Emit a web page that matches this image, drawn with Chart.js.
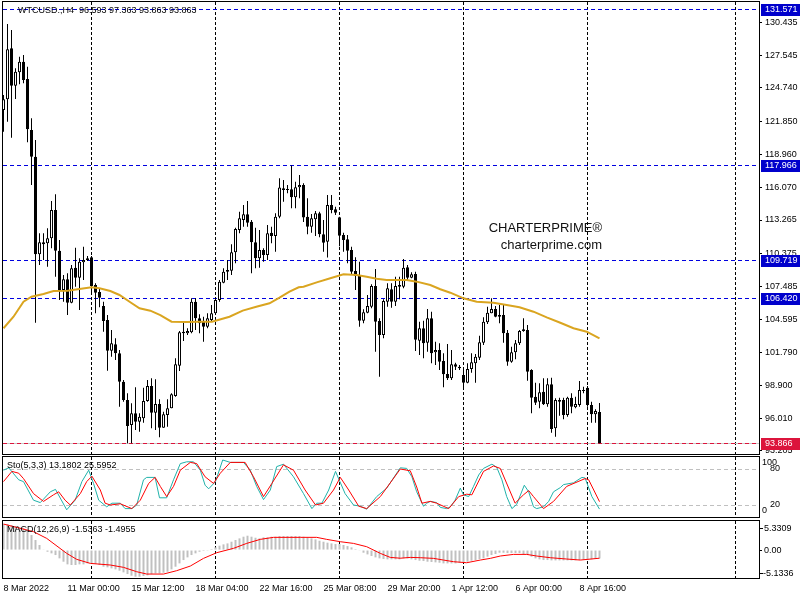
<!DOCTYPE html>
<html>
<head>
<meta charset="utf-8">
<title>WTCUSD H4</title>
<script src="https://cdn.jsdelivr.net/npm/chart.js@4.4.1/dist/chart.umd.min.js"></script>
<style>
  body { margin: 0; background: #ffffff; }
  canvas { position: absolute; left: 0; top: 0; }
</style>
</head>
<body>
<canvas id="mainCanvas" width="800" height="600"></canvas>
<canvas id="stoCanvas" width="800" height="600"></canvas>
<canvas id="macdCanvas" width="800" height="600"></canvas>
<script>
// H4 candles, bar index 0..149
const candleOpen = [122.82, 123.75, 128.18, 124.93, 126.10, 127.02, 125.52, 121.09, 118.77, 110.29,
  111.33, 111.24, 111.68, 114.14, 110.60, 107.18, 108.11, 106.08, 109.12, 108.25,
  109.59, 109.79, 110.03, 107.62, 107.01, 105.79, 104.58, 101.91, 102.47, 101.69,
  99.22, 97.63, 95.46, 96.47, 95.74, 96.04, 97.54, 98.85, 96.52, 97.28,
  95.22, 96.32, 96.91, 97.98, 100.61, 103.42, 103.42, 103.51, 106.17, 104.73,
  104.43, 104.00, 104.58, 105.16, 106.32, 107.82, 108.77, 108.86, 110.46, 112.40,
  113.27, 113.76, 113.12, 111.33, 109.94, 110.66, 110.23, 112.16, 111.88, 113.55,
  116.02, 115.93, 115.93, 115.24, 116.11, 116.31, 113.55, 112.68, 113.33, 113.85,
  112.02, 111.38, 114.57, 114.20, 113.50, 111.96, 111.59, 110.66, 108.84, 108.40,
  104.52, 105.21, 105.73, 107.53, 104.49, 103.28, 106.17, 107.25, 106.17, 107.47,
  107.47, 109.16, 108.25, 108.57, 102.78, 103.86, 102.61, 104.73, 101.77, 101.97,
  101.02, 99.89, 99.51, 100.73, 100.52, 99.80, 99.13, 100.32, 100.81, 101.30,
  102.61, 104.38, 105.16, 105.53, 105.01, 105.01, 103.47, 100.96, 101.77, 102.55,
  103.62, 103.71, 100.23, 97.91, 97.48, 98.35, 97.25, 98.99, 95.17, 97.63,
  97.63, 96.32, 97.83, 97.00, 97.19, 98.50, 98.70, 97.19, 96.39, 96.593];
const candleHigh = [124.13, 130.29, 129.77, 126.45, 127.45, 127.60, 126.59, 122.10, 120.22, 112.11,
  112.11, 112.55, 114.92, 115.50, 111.53, 108.49, 108.64, 109.36, 110.86, 109.94,
  110.95, 110.14, 110.14, 107.77, 107.33, 106.17, 105.01, 103.71, 102.99, 101.97,
  99.37, 98.21, 97.34, 98.73, 96.47, 98.70, 99.37, 99.51, 99.43, 97.69,
  96.61, 97.69, 98.21, 101.25, 103.62, 104.34, 103.86, 106.46, 106.46, 105.07,
  104.86, 105.16, 105.88, 106.52, 108.05, 109.07, 109.79, 111.16, 112.60, 113.99,
  114.57, 114.92, 113.27, 112.60, 112.40, 110.81, 112.83, 112.68, 113.85, 116.89,
  116.74, 116.31, 118.00, 116.59, 117.18, 116.45, 115.15, 113.79, 114.05, 113.99,
  113.27, 115.44, 115.44, 114.42, 113.55, 112.16, 111.96, 110.95, 110.03, 109.64,
  105.51, 106.75, 107.68, 109.01, 104.73, 106.38, 107.77, 107.77, 108.34, 108.34,
  109.88, 109.36, 108.72, 108.77, 104.43, 104.52, 105.53, 105.30, 102.69, 102.55,
  101.69, 102.49, 101.97, 100.87, 100.67, 100.23, 100.81, 101.69, 101.62, 103.21,
  104.81, 105.73, 106.46, 105.80, 105.88, 105.88, 103.71, 102.26, 102.84, 103.71,
  104.73, 104.14, 100.29, 99.13, 99.08, 99.51, 99.51, 99.57, 97.78, 97.83,
  97.83, 97.91, 98.21, 97.91, 99.28, 98.78, 98.84, 97.48, 96.82, 97.363];
const candleLow = [120.94, 121.81, 120.42, 123.78, 125.06, 125.14, 120.02, 116.31, 104.34, 109.36,
  109.79, 109.21, 110.81, 108.34, 106.32, 106.17, 105.01, 106.03, 107.47, 105.45,
  108.05, 109.70, 106.90, 105.16, 105.68, 103.56, 100.17, 101.39, 101.10, 97.05,
  97.48, 93.87, 93.87, 95.02, 94.87, 95.66, 97.48, 95.17, 95.02, 94.39,
  95.22, 95.31, 96.91, 97.91, 100.15, 102.75, 103.28, 103.42, 103.71, 103.42,
  102.69, 103.86, 104.43, 105.01, 106.17, 107.77, 108.05, 108.49, 109.50, 112.11,
  112.68, 112.68, 108.63, 109.07, 109.12, 109.64, 109.79, 111.24, 110.51, 113.41,
  114.86, 115.59, 114.28, 114.28, 115.15, 113.09, 112.02, 112.16, 111.88, 111.76,
  110.51, 110.01, 113.85, 113.70, 110.98, 110.51, 109.50, 108.49, 107.18, 104.00,
  104.29, 105.16, 105.59, 101.82, 99.65, 102.99, 105.73, 105.65, 105.80, 106.38,
  107.33, 108.05, 108.20, 101.88, 101.54, 101.25, 101.82, 100.82, 100.67, 100.23,
  98.73, 99.37, 99.37, 100.23, 100.23, 98.76, 99.08, 99.99, 99.13, 101.10,
  102.41, 104.23, 105.16, 104.81, 104.29, 102.61, 100.61, 100.87, 101.16, 102.41,
  103.56, 99.30, 96.47, 97.19, 96.91, 97.19, 97.05, 94.79, 94.44, 96.26,
  95.95, 96.18, 96.47, 96.91, 97.05, 98.21, 97.05, 95.66, 95.66, 93.863];
const candleClose = [123.75, 128.10, 124.93, 126.15, 127.02, 125.43, 121.15, 118.77, 110.29, 111.33,
  111.16, 111.68, 114.14, 110.60, 107.18, 108.11, 106.08, 109.07, 108.25, 109.64,
  109.79, 109.94, 107.53, 106.95, 106.52, 104.49, 101.91, 102.55, 101.69, 99.22,
  97.63, 95.37, 96.47, 95.74, 96.18, 97.54, 98.85, 96.52, 97.28, 95.22,
  96.39, 96.91, 98.12, 100.73, 103.51, 103.56, 103.62, 106.17, 104.73, 104.29,
  104.00, 104.73, 105.16, 106.32, 107.91, 108.77, 108.92, 110.46, 112.48, 113.41,
  113.76, 113.03, 111.33, 109.94, 110.66, 110.23, 112.11, 111.88, 113.55, 116.09,
  115.87, 115.87, 115.24, 116.11, 116.31, 113.48, 112.68, 113.41, 113.85, 112.02,
  111.29, 114.57, 114.14, 113.90, 111.90, 111.53, 110.60, 108.77, 108.40, 104.52,
  105.25, 105.80, 107.53, 104.43, 103.28, 106.23, 107.33, 106.17, 107.53, 107.62,
  109.12, 108.25, 108.55, 102.87, 103.86, 102.55, 104.73, 101.69, 101.97, 100.96,
  99.86, 99.51, 100.73, 100.52, 100.38, 99.13, 100.32, 100.90, 101.39, 102.64,
  104.43, 105.21, 105.53, 104.87, 104.87, 103.42, 100.96, 101.77, 102.55, 103.62,
  103.77, 100.09, 97.83, 97.39, 98.30, 97.25, 98.99, 95.11, 97.63, 97.48,
  96.32, 97.83, 97.05, 97.28, 98.50, 98.41, 97.19, 96.39, 96.67, 93.863];

// moving average (gold line), sampled along the curve
const maBars = [0, 2.5, 5, 7, 10, 12.5, 16, 19, 22, 24, 26.7, 29, 31.7, 34, 36.7, 39.2, 42, 45.8, 48.8, 52.1,
  53, 56.5, 59.8, 63.2, 66.5, 69, 71.5, 73.8, 75, 78.3, 81.7, 85, 88.3, 90.8, 93.3, 95.8, 100.8, 103.3,
  106.7, 109.2, 111.7, 115, 118.3, 122.5, 125.8, 129, 132.5, 135.8, 139.2, 142.5, 145.8, 149];
const maValues = [103.86, 104.86, 106.17, 106.60, 106.84, 107.10, 107.12, 107.27, 107.42, 107.33, 107.10, 106.75,
  106.12, 105.59, 105.39, 105.01, 104.43, 104.40, 104.43, 104.43, 104.52, 104.86, 105.39, 105.73, 106.03,
  106.52, 107.04, 107.42, 107.47, 107.85, 108.20, 108.55, 108.49, 108.34, 108.17, 108.05, 108.05, 107.91,
  107.62, 107.25, 106.95, 106.46, 106.17, 106.08, 105.88, 105.68, 105.30, 104.81, 104.34, 103.86, 103.56, 102.99];

// Stochastic(5,3,3)
const stoKBars = [0, 1.3, 3.8, 5, 7.5, 9.2, 11.7, 13, 15.8, 17.9, 19.6, 21.3, 22.5, 23.8, 25.8, 27.1, 29.2, 30.4,
  32.1, 33.3, 35, 35.8, 37.9, 39, 40.8, 42.5, 44.2, 45.8, 47.5, 49.2, 50.4, 51.3, 53, 54.8, 56.7, 60, 61.7,
  63.3, 65, 66.7, 68.3, 70, 72.5, 75, 77.1, 78.3, 79.6, 81.3, 83, 85.4, 87.5, 89.2, 90.8, 93.3, 95.8, 99.2,
  100.8, 102.1, 103.3, 105, 105.8, 106.7, 108.3, 109.2, 110.8, 111.7, 112.9, 114.2, 115, 116.3, 117.5, 118.8,
  120, 122.1, 123.3, 124.6, 125.8, 127.1, 128.3, 130.2, 131.3, 132.5, 133.3, 135, 136.3, 137.5, 139.2, 140,
  142.5, 144.6, 145.4, 147.1, 149];
const stoKValues = [78, 82, 62, 59, 28, 24, 42, 46, 12, 28, 59, 78, 56, 28, 17, 23, 23, 14, 14, 20, 62, 66, 66,
  32, 32, 62, 89, 92, 92, 78, 53, 47, 59, 95, 91, 91, 78, 51, 29, 45, 84, 88, 67, 39, 14, 23, 23, 45, 76, 39,
  20, 18, 13, 34, 48, 82, 81, 67, 42, 18, 23, 26, 24, 16, 14, 17, 28, 48, 37, 34, 51, 70, 81, 88, 83, 62, 34,
  14, 21, 53, 42, 17, 14, 17, 26, 42, 49, 54, 57, 66, 65, 34, 13.18];
const stoDBars = [0, 2.1, 3.8, 5, 7.5, 10, 12.5, 13.8, 15.4, 16.7, 19.2, 20.8, 22.1, 24.2, 25.4, 26.7, 29.2, 32.1,
  34.2, 36.3, 37.9, 39.2, 40.8, 42.5, 44.2, 46.7, 48.3, 50.4, 52.5, 54.2, 56.7, 60.4, 62.5, 65, 67.1, 70, 72.5,
  75.4, 78, 80, 82.5, 84.2, 86.3, 88.8, 90.8, 94.2, 99.2, 101.7, 103.3, 104.6, 106.7, 108.3, 111.3, 113.8,
  115.8, 117.1, 120, 122.5, 124.2, 127.9, 130, 131.3, 132.5, 135, 137.5, 140.8, 145.4, 146.3, 149];
const stoDValues = [59, 76, 73, 64, 39, 26, 37, 42, 28, 20, 39, 59, 68, 45, 23, 20, 22, 14, 28, 56, 66, 51, 34,
  51, 78, 91, 89, 67, 56, 73, 91, 91, 67, 34, 56, 87, 78, 45, 20, 23, 45, 66, 45, 18, 14, 34, 80, 77, 50, 23,
  26, 23, 14, 34, 38, 37, 76, 85, 81, 23, 37, 44, 34, 14, 26, 51, 64, 62, 25.6];

// MACD(12,26,9): histogram per bar + signal line
const macdHist = [4.77, 4.77, 4.59, 4.41, 4.16, 3.98, 3.67, 2.75, 1.84, 0.92, 0.12,
  -0.31, -0.61, -0.92, -1.53, -2.14, -2.63, -2.75, -2.75, -2.63, -2.63,
  -2.45, -2.45, -2.57, -2.75, -3.06, -3.18, -3.37, -3.55, -3.79, -4.10,
  -4.41, -4.71, -4.90, -4.90, -4.77, -4.65, -4.41, -4.28, -4.28, -4.16,
  -3.98, -3.55, -3.06, -2.45, -1.84, -1.35, -0.92, -0.61, -0.31, -0.18,
  -0.05, 0.18, 0.49, 0.80, 1.04, 1.22, 1.53, 1.84, 2.14, 2.45,
  2.63, 2.45, 2.26, 2.14, 2.33, 2.33, 2.45, 2.45, 2.57, 2.57,
  2.57, 2.57, 2.57, 2.57, 2.45, 2.33, 2.14, 1.96, 1.71, 1.53,
  1.35, 1.22, 1.10, 1.10, 0.92, 0.73, 0.49, 0.18, -0.12, -0.49,
  -0.80, -1.10, -1.35, -1.53, -1.65, -1.71, -1.71, -1.71, -1.71, -1.53,
  -1.53, -1.71, -1.84, -1.96, -2.02, -2.14, -2.20, -2.26, -2.33, -2.45,
  -2.45, -2.45, -2.45, -2.33, -2.26, -2.14, -1.96, -1.84, -1.65, -1.53,
  -1.22, -0.92, -0.73, -0.49, -0.49, -0.55, -0.55, -0.55, -0.55, -0.73,
  -0.92, -1.22, -1.53, -1.71, -1.84, -1.84, -1.90, -1.90, -1.90, -1.90,
  -1.90, -1.90, -1.88, -1.84, -1.80, -1.75, -1.70, -1.62, -1.54];
const signalBars = [0, 7.5, 10.8, 15.8, 18.3, 21.7, 26.7, 30, 33.3, 35.8, 40, 43.3, 46.7, 50, 53.3, 57.5, 60.8,
  64.2, 67.5, 74.2, 78.3, 80.8, 84.2, 87.5, 90.8, 94.2, 96.7, 99.2, 101.7, 104.2, 107.5, 110, 112.5, 115.8,
  119.2, 121.7, 124.2, 127.5, 130.8, 133.3, 136.7, 140.8, 144.2, 149];
const signalValues = [4.77, 3.37, 2.14, -0.61, -1.71, -2.45, -2.75, -3.18, -3.98, -4.41, -4.41, -3.79, -2.94,
  -1.53, -0.49, 0.31, 1.22, 1.96, 2.33, 2.33, 2.33, 1.96, 1.53, 1.22, 0.61, -0.61, -1.35, -1.50, -1.35, -1.41,
  -1.53, -1.84, -2.14, -2.33, -1.84, -1.53, -1.10, -0.80, -0.80, -1.10, -1.41, -1.65, -1.84, -1.50];

// axes / labels
const priceTicks = [130.435, 127.545, 124.740, 121.850, 118.960, 116.070, 113.265, 110.375, 107.485,
  104.595, 101.790, 98.900, 96.010, 93.205];
const levelLines = [131.571, 117.966, 109.719, 106.420];
const bidPrice = 93.866;
const timeLabels = ["8 Mar 2022", "11 Mar 00:00", "15 Mar 12:00", "18 Mar 04:00", "22 Mar 16:00",
  "25 Mar 08:00", "29 Mar 20:00", "1 Apr 12:00", "6 Apr 00:00", "8 Apr 16:00"];
const timeLabelBars = [0, 16, 32, 48, 64, 80, 96, 112, 128, 144];
const gridBars = [22, 53, 84, 115, 146, 183];

Chart.defaults.font.family = "'Liberation Sans', Arial, sans-serif";
Chart.defaults.font.size = 9;
Chart.defaults.color = "#000";

const FONT = "9px 'Liberation Sans', Arial, sans-serif";
const LINE_BLUE = "#0000E0";
const xMin = -0.125;
const xMax = xMin + 189;
const bars = candleOpen.map((v, i) => i);

// fixed right axis, no extra padding pushed into the layout
const rightAxisFit = (s) => {
  s.width = 41;
  s.paddingTop = 0;
  s.paddingBottom = 0;
};

function drawVGrid(chart) {
  let ctx = chart.ctx, a = chart.chartArea, sx = chart.scales.x;
  ctx.save();
  ctx.lineWidth = 1;
  ctx.strokeStyle = "#000";
  ctx.setLineDash([3, 2]);
  gridBars.forEach((k) => {
    let px = Math.floor(sx.getPixelForValue(k)) + 0.5;
    ctx.beginPath();
    ctx.moveTo(px, a.top);
    ctx.lineTo(px, a.bottom);
    ctx.stroke();
  });
  ctx.restore();
}

function drawBox(chart) {
  let ctx = chart.ctx, a = chart.chartArea;
  ctx.save();
  ctx.lineWidth = 1;
  ctx.strokeStyle = "#000";
  ctx.strokeRect(a.left - 0.5, a.top - 0.5, a.right - a.left + 1, a.bottom - a.top + 1);
  ctx.restore();
}

function drawText(ctx, text, x, y, color, font, align) {
  ctx.save();
  ctx.font = font || FONT;
  ctx.fillStyle = color || "#000";
  ctx.textAlign = align || "left";
  ctx.textBaseline = "middle";
  ctx.fillText(text, x, y);
  ctx.restore();
}

const mainDecor = {
  id: "mainDecor",
  beforeDatasetsDraw(chart) {
    let ctx = chart.ctx, a = chart.chartArea, sy = chart.scales.y;
    drawVGrid(chart);
    ctx.save();
    ctx.lineWidth = 1;
    ctx.strokeStyle = LINE_BLUE;
    ctx.setLineDash([4, 3]);
    levelLines.forEach((v) => {
      let py = Math.floor(sy.getPixelForValue(v)) + 0.5;
      ctx.beginPath();
      ctx.moveTo(a.left, py);
      ctx.lineTo(a.right, py);
      ctx.stroke();
    });
    let by = Math.floor(sy.getPixelForValue(bidPrice)) + 0.5;
    ctx.setLineDash([]);
    ctx.strokeStyle = "#C8C8C8";
    ctx.beginPath();
    ctx.moveTo(a.left, by);
    ctx.lineTo(a.right, by);
    ctx.stroke();
    ctx.setLineDash([4, 3]);
    ctx.strokeStyle = "#DC143C";
    ctx.beginPath();
    ctx.moveTo(a.left, by);
    ctx.lineTo(a.right, by);
    ctx.stroke();
    ctx.restore();
  },
  afterDraw(chart) {
    let ctx = chart.ctx, a = chart.chartArea, sy = chart.scales.y;
    drawBox(chart);
    drawText(ctx, "WTCUSD.,H4  96.593 97.363 93.863 93.863", 18, 10.5);
    drawText(ctx, "CHARTERPRIME\u00AE", 602, 228.5, "#111", "13px 'Liberation Sans', Arial, sans-serif", "right");
    drawText(ctx, "charterprime.com", 602, 245, "#111", "13px 'Liberation Sans', Arial, sans-serif", "right");
    const tag = (v, color) => {
      let py = Math.floor(sy.getPixelForValue(v));
      ctx.fillStyle = color;
      ctx.fillRect(a.right + 2, py - 5, 800 - a.right - 2, 12);
      drawText(ctx, v.toFixed(3), a.right + 6, py + 1, "#fff");
    };
    levelLines.forEach((v) => tag(v, "#0000CC"));
    tag(bidPrice, "#DC143C");
  }
};

const stoDecor = {
  id: "stoDecor",
  beforeDatasetsDraw(chart) {
    let ctx = chart.ctx, a = chart.chartArea, sy = chart.scales.y;
    drawVGrid(chart);
    ctx.save();
    ctx.lineWidth = 1;
    ctx.strokeStyle = "#C0C0C0";
    ctx.setLineDash([4, 3]);
    [20, 80].forEach((v) => {
      let py = Math.floor(sy.getPixelForValue(v)) + 0.5;
      ctx.beginPath();
      ctx.moveTo(a.left, py);
      ctx.lineTo(a.right, py);
      ctx.stroke();
    });
    ctx.restore();
  },
  afterDraw(chart) {
    let ctx = chart.ctx, a = chart.chartArea, sy = chart.scales.y;
    drawBox(chart);
    drawText(ctx, "Sto(5,3,3) 13.1802 25.5952", 7, 465.5);
    drawText(ctx, "100", a.right + 3, sy.getPixelForValue(100) + 6);
    drawText(ctx, "0", a.right + 3, sy.getPixelForValue(0) - 6);
  }
};

const macdDecor = {
  id: "macdDecor",
  beforeDatasetsDraw(chart) {
    drawVGrid(chart);
  },
  afterDraw(chart) {
    let ctx = chart.ctx, a = chart.chartArea;
    drawBox(chart);
    drawText(ctx, "MACD(12,26,9) -1.5363 -1.4955", 7, 530);
    ctx.save();
    ctx.strokeStyle = "#000";
    ctx.lineWidth = 1;
    [a.top + 7, a.bottom - 5].forEach((py) => {
      ctx.beginPath();
      ctx.moveTo(a.right + 1, py + 0.5);
      ctx.lineTo(a.right + 4, py + 0.5);
      ctx.stroke();
    });
    ctx.restore();
    drawText(ctx, "5.3309", a.right + 5, a.top + 7.5);
    drawText(ctx, "-5.1336", a.right + 4, a.bottom - 4.5);
  }
};

let mainChart = new Chart(document.getElementById("mainCanvas"), {
  type: "bar",
  data: {
    datasets: [
      {
        type: "line",
        data: maBars.map((k, i) => ({ x: k, y: maValues[i] })),
        borderColor: "#DAA520",
        borderWidth: 2,
        pointRadius: 0,
        order: 0,
      },
      {
        type: "bar",
        data: bars.map((k) => ({ x: k, y: [candleOpen[k], candleClose[k]] })),
        backgroundColor: bars.map((k) => (candleClose[k] >= candleOpen[k] ? "#ffffff" : "#000000")),
        borderColor: "#000000",
        borderWidth: 1,
        borderSkipped: false,
        barThickness: 3,
        minBarLength: 1,
        grouped: false,
        inflateAmount: 0,
        order: 1,
      },
      {
        type: "bar",
        data: bars.map((k) => ({ x: k, y: [candleLow[k], candleHigh[k]] })),
        backgroundColor: "#000000",
        barThickness: 1,
        grouped: false,
        inflateAmount: 0,
        order: 2,
      },
    ],
  },
  options: {
    responsive: false,
    animation: false,
    layout: { padding: { left: 3, top: 2, right: 0, bottom: 146 }, autoPadding: false },
    plugins: { legend: { display: false }, tooltip: { enabled: false } },
    scales: {
      x: { type: "linear", min: xMin, max: xMax, offset: false, display: false },
      y: {
        type: "linear",
        position: "right",
        min: 92.936,
        max: 132.206,
        afterBuildTicks: (s) => { s.ticks = priceTicks.map((v) => ({ value: v })); },
        afterFit: rightAxisFit,
        grid: { display: true, drawOnChartArea: false, drawTicks: true, tickLength: 3, color: "#000" },
        border: { display: false },
        ticks: { autoSkip: false, padding: 3, callback: (v) => v.toFixed(3) },
      },
    },
  },
  plugins: [mainDecor],
});

let stoChart = new Chart(document.getElementById("stoCanvas"), {
  type: "line",
  data: {
    datasets: [
      {
        data: stoDBars.map((k, i) => ({ x: k, y: stoDValues[i] })),
        borderColor: "#FF0000",
        borderWidth: 1,
        pointRadius: 0,
        order: 0,
      },
      {
        data: stoKBars.map((k, i) => ({ x: k, y: stoKValues[i] })),
        borderColor: "#20B2AA",
        borderWidth: 1,
        pointRadius: 0,
        order: 1,
      },
    ],
  },
  options: {
    responsive: false,
    animation: false,
    layout: { padding: { left: 3, top: 457, right: 0, bottom: 83 }, autoPadding: false },
    plugins: { legend: { display: false }, tooltip: { enabled: false } },
    scales: {
      x: { type: "linear", min: xMin, max: xMax, offset: false, display: false },
      y: {
        type: "linear",
        position: "right",
        min: 0,
        max: 100,
        afterBuildTicks: (s) => { s.ticks = [{ value: 20 }, { value: 80 }]; },
        afterFit: rightAxisFit,
        grid: { display: false },
        border: { display: false },
        ticks: { autoSkip: false, padding: 3, callback: (v) => String(v) },
      },
    },
  },
  plugins: [stoDecor],
});

let macdChart = new Chart(document.getElementById("macdCanvas"), {
  type: "bar",
  data: {
    datasets: [
      {
        type: "line",
        data: signalBars.map((k, i) => ({ x: k, y: signalValues[i] })),
        borderColor: "#FF0000",
        borderWidth: 1,
        pointRadius: 0,
        order: 0,
      },
      {
        type: "bar",
        data: macdHist.map((v, i) => ({ x: i, y: v })),
        backgroundColor: "#C0C0C0",
        barThickness: 2,
        grouped: false,
        inflateAmount: 0,
        order: 1,
      },
    ],
  },
  options: {
    responsive: false,
    animation: false,
    layout: { padding: { left: 3, top: 521, right: 0, bottom: 0 }, autoPadding: false },
    plugins: { legend: { display: false }, tooltip: { enabled: false } },
    scales: {
      x: {
        type: "linear",
        min: xMin,
        max: xMax,
        offset: false,
        afterBuildTicks: (s) => { s.ticks = timeLabelBars.map((v) => ({ value: v })); },
        afterFit: (s) => {
          s.height = 22;
          s.paddingLeft = 0;
          s.paddingRight = 0;
        },
        grid: { display: false },
        border: { display: false },
        ticks: { autoSkip: false, maxRotation: 0, align: "start", padding: -3, callback: (v, i) => timeLabels[i] },
      },
      y: {
        type: "linear",
        position: "right",
        min: -5.1336,
        max: 5.3309,
        afterBuildTicks: (s) => { s.ticks = [{ value: 0 }]; },
        afterFit: rightAxisFit,
        grid: { display: true, drawOnChartArea: false, drawTicks: true, tickLength: 3, color: "#000" },
        border: { display: false },
        ticks: { autoSkip: false, padding: 2, callback: () => "0.00" },
      },
    },
  },
  plugins: [macdDecor],
});
</script>
</body>
</html>
